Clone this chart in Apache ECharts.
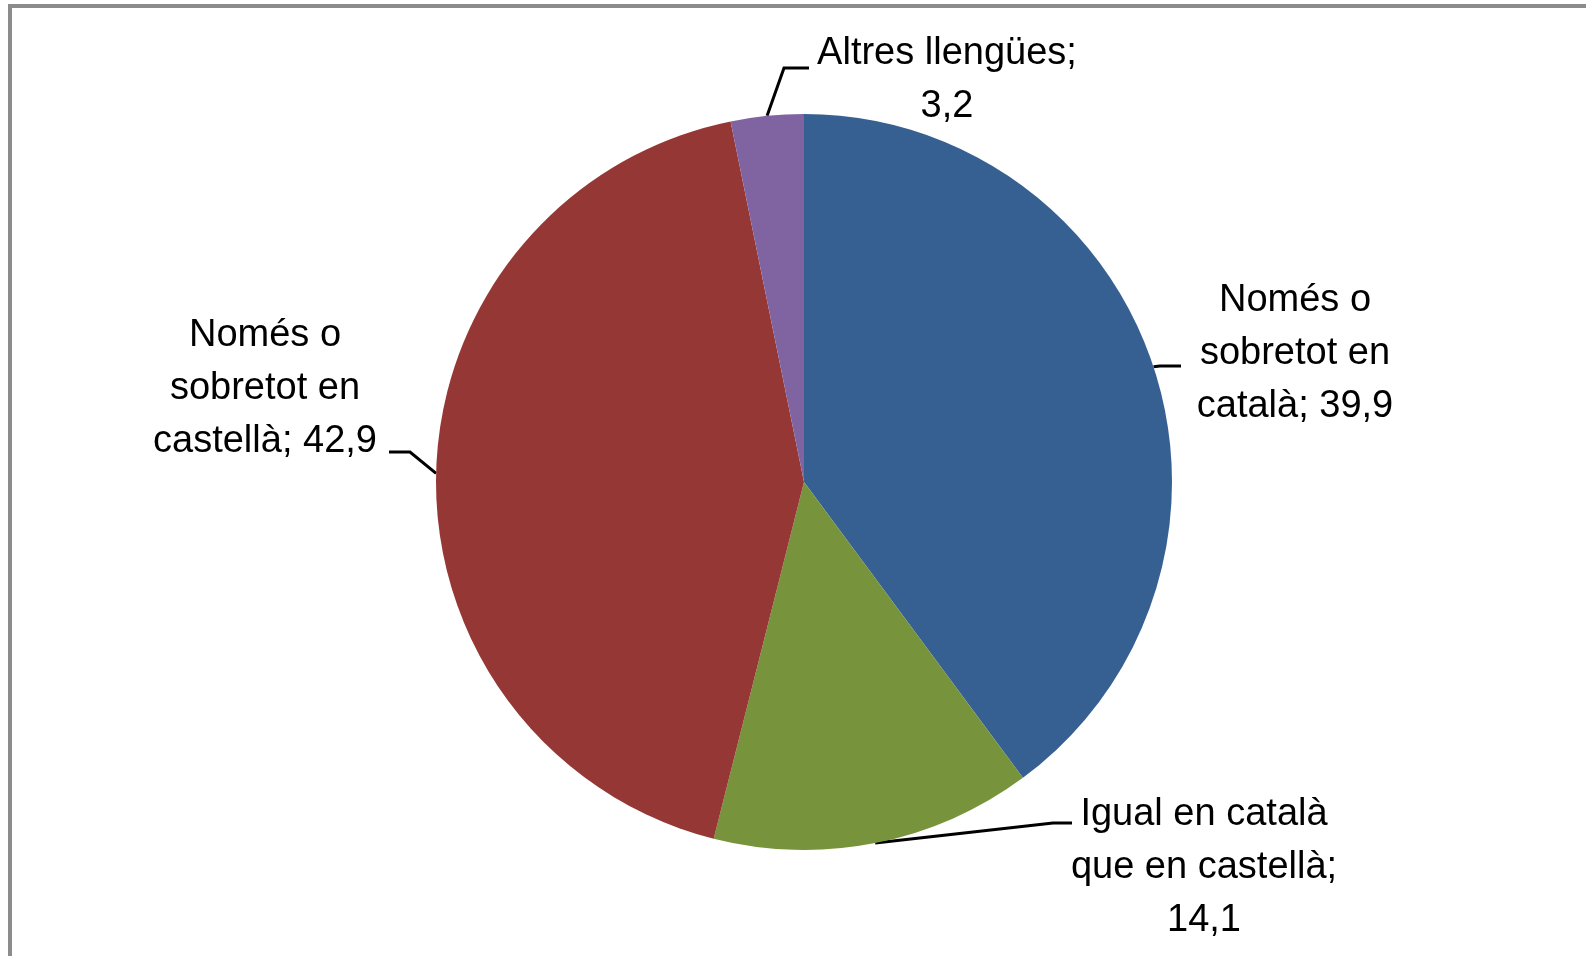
<!DOCTYPE html>
<html>
<head>
<meta charset="utf-8">
<script src="https://cdn.jsdelivr.net/npm/echarts@6/dist/echarts.min.js"></script>
<style>
  html, body { margin: 0; padding: 0; background: #fff; }
  #chart { width: 1586px; height: 956px; }
</style>
</head>
<body>
<div id="chart"></div>
<script>
  // dades (ordre horari des de les 12)
  var categories = ['Només o\nsobretot en\ncatalà', 'Igual en català\nque en castellà', 'Només o\nsobretot en\ncastellà', 'Altres llengües']
  var values = [39.9, 14.1, 42.9, 3.2]
  var colors = ['#376092', '#77933C', '#953735', '#8064A2']

  // separador entre nom i valor a cada etiqueta
  var seps = ['; ', ';\n', '; ', ';\n']
  // posició de les etiquetes i colzes de les línies guia
  var labelPos = [[1295, 354], [1204, 868], [265, 389], [947, 80]]
  var elbows = [
    [[1160, 366], [1181, 366]],
    [[1053, 823], [1072, 823]],
    [[410, 452], [389, 452]],
    [[784, 68], [809, 68]]
  ]

  var chart = echarts.init(document.getElementById('chart'))
  chart.setOption({
    animation: false,
    backgroundColor: '#fff',
    graphic: [{
      type: 'rect',
      shape: { x: 10, y: 6, width: 1600, height: 1000 },
      style: { fill: 'none', stroke: '#8c8c8c', lineWidth: 4 },
      silent: true
    }],
    series: [{
      type: 'pie',
      center: [804, 482],
      radius: 368,
      startAngle: 90,
      clockwise: true,
      avoidLabelOverlap: false,
      itemStyle: { borderWidth: 0 },
      label: {
        show: true,
        color: '#000',
        fontFamily: 'Liberation Sans, Arial, sans-serif',
        fontSize: 38,
        lineHeight: 53,
        align: 'center',
        formatter: function (p) {
          return p.name + seps[p.dataIndex] + String(p.value).replace('.', ',')
        }
      },
      labelLine: {
        show: true,
        lineStyle: { color: '#000', width: 3 }
      },
      labelLayout: function (params) {
        var i = params.dataIndex
        var start = params.labelLinePoints ? params.labelLinePoints[0] : elbows[i][0]
        return {
          x: labelPos[i][0],
          y: labelPos[i][1],
          align: 'center',
          verticalAlign: 'middle',
          labelLinePoints: [start, elbows[i][0], elbows[i][1]]
        }
      },
      data: categories.map(function (c, i) {
        return { name: c, value: values[i], itemStyle: { color: colors[i] } }
      })
    }]
  })
</script>
</body>
</html>
